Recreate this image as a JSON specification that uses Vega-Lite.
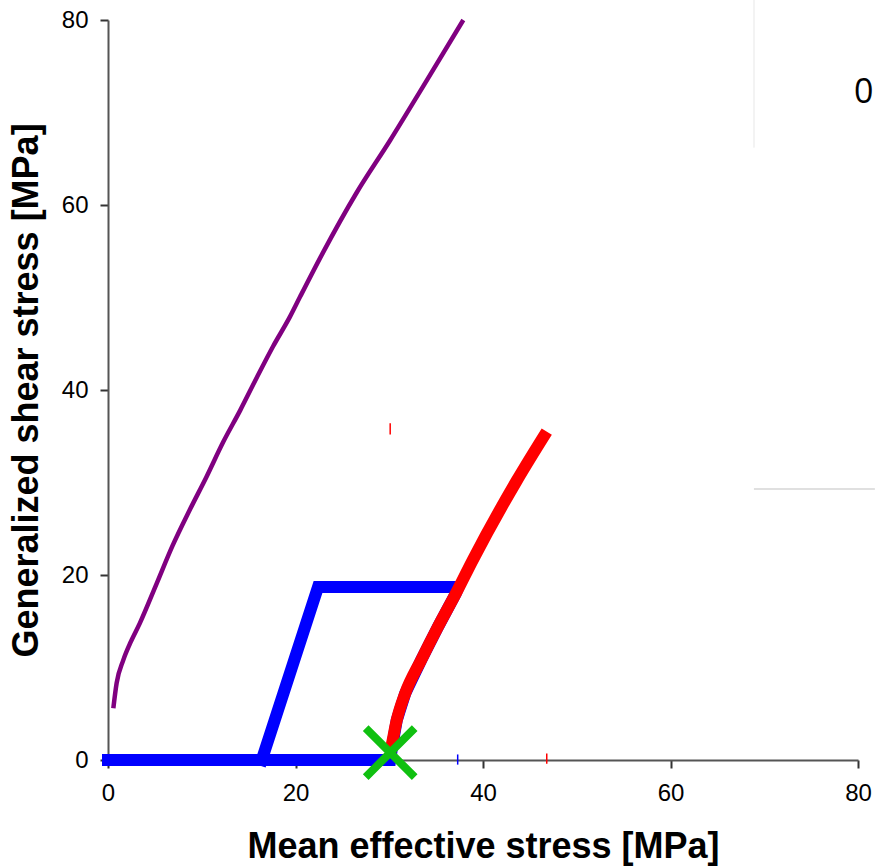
{
  "$schema": "https://vega.github.io/schema/vega-lite/v6.json",
  "width": 750,
  "height": 740,
  "autosize": "none",
  "padding": {"left": 108, "top": 20, "right": 17, "bottom": 106},
  "background": "white",
  "config": {
    "view": {"stroke": null},
    "axis": {
      "grid": false,
      "domainColor": "#555555",
      "domainWidth": 2,
      "tickColor": "#333333",
      "tickWidth": 2,
      "tickSize": 8,
      "labelFont": "Liberation Sans, Arial, sans-serif",
      "labelFontSize": 24,
      "labelColor": "#000000",
      "labelFlush": false,
      "titleFont": "Liberation Sans, Arial, sans-serif",
      "titleFontWeight": "bold",
      "titleFontSize": 36,
      "titleColor": "#000000"
    }
  },
  "layer": [
    {
      "data": {"values": [
        {"x": 68.9, "x2": 81.8, "y": 29.3, "y2": 29.3, "c": "#e0e0e0"},
        {"x": 68.9, "x2": 68.9, "y": 66.2, "y2": 82.2, "c": "#f3f3f3"}
      ]},
      "mark": {"type": "rule", "strokeWidth": 2},
      "encoding": {
        "x": {"field": "x", "type": "quantitative"},
        "x2": {"field": "x2"},
        "y": {"field": "y", "type": "quantitative"},
        "y2": {"field": "y2"},
        "color": {"field": "c", "type": "nominal", "scale": null}
      }
    },
    {
      "data": {"values": [
        {"x": 0.57, "y": 5.6}, {"x": 0.92, "y": 8.3}, {"x": 1.63, "y": 10.8}, {"x": 2.35, "y": 12.6},
        {"x": 3.4, "y": 14.8}, {"x": 5.2, "y": 19.1}, {"x": 6.9, "y": 23.2}, {"x": 8.7, "y": 27.0},
        {"x": 10.5, "y": 30.6}, {"x": 12.3, "y": 34.4}, {"x": 14.1, "y": 37.8}, {"x": 15.9, "y": 41.4},
        {"x": 17.6, "y": 44.7}, {"x": 19.4, "y": 47.9}, {"x": 20.5, "y": 50.1}, {"x": 22.9, "y": 54.8},
        {"x": 26.5, "y": 61.3}, {"x": 30.1, "y": 67.0}, {"x": 33.6, "y": 72.8}, {"x": 37.9, "y": 80.0}
      ]},
      "mark": {"type": "line", "color": "#800080", "strokeWidth": 4.5, "interpolate": "monotone"},
      "encoding": {
        "x": {"field": "x", "type": "quantitative", "scale": {"domain": [0, 80]},
              "axis": {"values": [0, 20, 40, 60, 80], "title": "Mean effective stress [MPa]", "labelPadding": 13, "titlePadding": 24}},
        "y": {"field": "y", "type": "quantitative", "scale": {"domain": [0, 80]},
              "axis": {"values": [0, 20, 40, 60, 80], "title": "Generalized shear stress [MPa]", "labelPadding": 12, "titlePadding": 16}}
      }
    },
    {
      "data": {"values": [
        {"o": 1, "x": 0, "y": 0}, {"o": 2, "x": 30.1, "y": 0}, {"o": 3, "x": 30.3, "y": 1.4},
        {"o": 4, "x": 30.8, "y": 4.3}, {"o": 5, "x": 31.7, "y": 7.2}, {"o": 6, "x": 33.4, "y": 10.8},
        {"o": 7, "x": 35.2, "y": 14.4}, {"o": 8, "x": 37.1, "y": 18.0}, {"o": 9, "x": 37.4, "y": 18.7},
        {"o": 10, "x": 22.4, "y": 18.7}, {"o": 11, "x": 16.4, "y": 0}
      ]},
      "mark": {"type": "line", "color": "#0000ff", "strokeWidth": 12, "strokeJoin": "miter", "strokeCap": "square"},
      "encoding": {
        "x": {"field": "x", "type": "quantitative"},
        "y": {"field": "y", "type": "quantitative"},
        "order": {"field": "o", "type": "quantitative"}
      }
    },
    {
      "data": {"values": [
        {"x": 30.1, "y": 0.8}, {"x": 30.3, "y": 1.8}, {"x": 30.8, "y": 4.3}, {"x": 31.7, "y": 7.2},
        {"x": 33.4, "y": 10.8}, {"x": 35.2, "y": 14.4}, {"x": 37.1, "y": 18.0}, {"x": 38.9, "y": 21.6},
        {"x": 43.6, "y": 30.2}, {"x": 46.8, "y": 35.5}
      ]},
      "mark": {"type": "line", "color": "#ff0000", "strokeWidth": 12, "strokeCap": "butt", "interpolate": "monotone"},
      "encoding": {
        "x": {"field": "x", "type": "quantitative"},
        "y": {"field": "y", "type": "quantitative"}
      }
    },
    {
      "data": {"values": [
        {"x": 37.3, "y": -0.5, "y2": 0.6, "c": "#0000ff"},
        {"x": 46.8, "y": -0.4, "y2": 0.7, "c": "#ff0000"},
        {"x": 30.1, "y": 35.2, "y2": 36.4, "c": "#ff0000"}
      ]},
      "mark": {"type": "rule", "strokeWidth": 1.5},
      "encoding": {
        "x": {"field": "x", "type": "quantitative"},
        "y": {"field": "y", "type": "quantitative"},
        "y2": {"field": "y2"},
        "color": {"field": "c", "type": "nominal", "scale": null}
      }
    },
    {
      "data": {"values": [{"x": 30.1, "y": 0.8}]},
      "mark": {"type": "point", "shape": "M-1,-1L1,1M1,-1L-1,1", "size": 2400, "filled": false, "stroke": "#10c010", "strokeWidth": 8, "opacity": 1},
      "encoding": {
        "x": {"field": "x", "type": "quantitative"},
        "y": {"field": "y", "type": "quantitative"}
      }
    },
    {
      "data": {"values": [{"t": "0", "x": 80.6, "y": 72.1}]},
      "mark": {"type": "text", "font": "Open Sans", "fontSize": 34, "color": "#000000", "align": "center", "baseline": "middle"},
      "encoding": {
        "x": {"field": "x", "type": "quantitative"},
        "y": {"field": "y", "type": "quantitative"},
        "text": {"field": "t"}
      }
    }
  ]
}
